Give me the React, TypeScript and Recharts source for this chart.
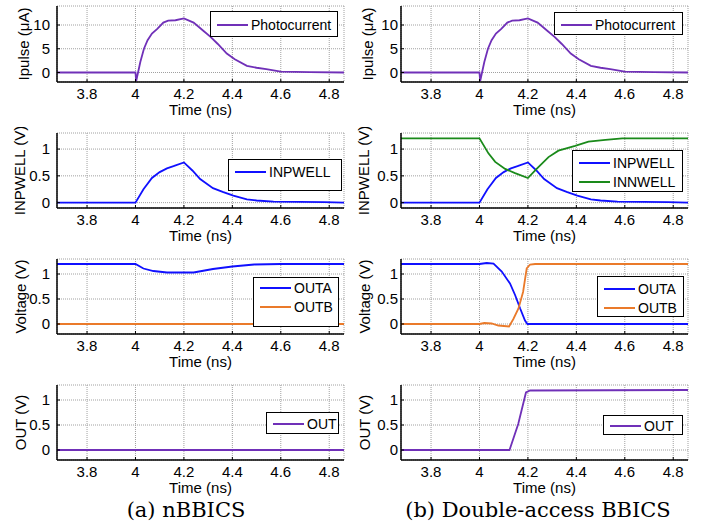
import React from 'react';
import { LineChart, Line, XAxis, YAxis, CartesianGrid, Legend } from 'recharts';

const timeRange = [3.676, 4.861];
const timeTicks = [3.8, 4, 4.2, 4.4, 4.6, 4.8];
const currentTicks = [0, 5, 10];
const voltTicks = [0, 0.5, 1];

// photocurrent pulse (uA), same for both circuits
const pulseT = [3.676, 4.0, 4.003, 4.02, 4.035, 4.05, 4.068, 4.09, 4.115, 4.135, 4.165, 4.2, 4.24, 4.28, 4.31, 4.34, 4.377, 4.41, 4.46, 4.5, 4.54, 4.6, 4.72, 4.861];
const pulseV = [0, 0, -1.8, 2.2, 5.0, 6.8, 8.2, 9.2, 10.5, 10.9, 11.0, 11.4, 10.5, 8.8, 7.5, 6.0, 4.0, 2.8, 1.4, 1.0, 0.7, 0.2, 0.1, 0];

// well voltages (V)
const inpwellT = [3.676, 4.0, 4.033, 4.068, 4.1, 4.13, 4.157, 4.2, 4.235, 4.267, 4.32, 4.36, 4.404, 4.46, 4.5, 4.57, 4.78, 4.861];
const inpwellV = [0, 0, 0.25, 0.46, 0.57, 0.64, 0.68, 0.75, 0.6, 0.44, 0.27, 0.2, 0.13, 0.06, 0.04, 0.02, 0.01, 0];
const innwellT = [3.676, 4.0, 4.037, 4.065, 4.106, 4.147, 4.2, 4.236, 4.285, 4.326, 4.395, 4.45, 4.52, 4.59, 4.861];
const innwellV = [1.2, 1.2, 0.92, 0.76, 0.63, 0.55, 0.46, 0.63, 0.85, 0.97, 1.06, 1.14, 1.17, 1.2, 1.2];

// nBBICS outputs
const outaLeftT = [3.676, 4.0, 4.033, 4.074, 4.13, 4.24, 4.32, 4.4, 4.49, 4.6, 4.861];
const outaLeftV = [1.2, 1.2, 1.11, 1.06, 1.03, 1.03, 1.1, 1.15, 1.19, 1.2, 1.2];
const outbLeftT = [3.676, 4.861];
const outbLeftV = [0, 0];
const outLeftT = [3.676, 4.861];
const outLeftV = [0, 0];

// double-access BBICS outputs
const outaRightT = [3.676, 4.0, 4.03, 4.058, 4.092, 4.126, 4.147, 4.168, 4.188, 4.198, 4.861];
const outaRightV = [1.2, 1.2, 1.22, 1.21, 1.05, 0.81, 0.58, 0.31, 0.07, 0, 0];
const outbRightT = [3.676, 4.0, 4.02, 4.05, 4.078, 4.122, 4.14, 4.161, 4.18, 4.195, 4.209, 4.23, 4.861];
const outbRightV = [0, 0, 0.02, 0.01, -0.03, -0.05, 0.1, 0.31, 0.64, 1.11, 1.19, 1.2, 1.2];
const outRightT = [3.676, 4.124, 4.16, 4.192, 4.209, 4.861];
const outRightV = [0, 0, 0.52, 1.15, 1.19, 1.2];

const PURPLE = '#7030b8';
const BLUE = '#1010ff';
const GREEN = '#1a8a1a';
const ORANGE = '#ea7a2a';

const pts = (t: number[], v: number[]) => t.map((x, i) => ({ t: x, v: v[i] }));

interface Series {
  name: string;
  color: string;
  data: { t: number; v: number }[];
}

interface Box {
  x: number;
  y: number;
  w: number;
  h: number;
  pad: number;
}

interface PanelProps {
  col: 0 | 1;
  plotTop: number;
  plotH: number;
  yDomain: number[];
  yTicks: number[];
  yLabel: string;
  labelOffset: number;
  series: Series[];
  box: Box;
}

// MATLAB-style legend: boxed, line sample then name, in series order
function LegendBox({ series, box }: { series: Series[]; box: Box }) {
  return (
    <div
      style={{
        boxSizing: 'border-box',
        width: box.w,
        height: box.h,
        border: '1px solid #000',
        background: '#fff',
        paddingTop: box.pad,
        paddingLeft: 6,
        fontSize: 14,
        color: '#000',
        whiteSpace: 'nowrap'
      }}
    >
      {series.map((s) => (
        <div key={s.name} style={{ display: 'flex', alignItems: 'center', height: 19 }}>
          <span style={{ display: 'inline-block', width: 31, height: 2, background: s.color, marginRight: 3 }} />
          <span>{s.name}</span>
        </div>
      ))}
    </div>
  );
}

const SANS = '"Liberation Sans", Arial, sans-serif';

function Panel({ col, plotTop, plotH, yDomain, yTicks, yLabel, labelOffset, series, box }: PanelProps) {
  const left = col === 0 ? 0 : 355;
  const width = col === 0 ? 360 : 354;
  const yWidth = col === 0 ? 57 : 46;
  const marginRight = col === 0 ? 16 : 21;
  const top = plotTop - 6;
  const height = 6 + plotH + 40;
  const axisFont = { fill: '#000', fontSize: 15, fontFamily: SANS };

  return (
    <div style={{ position: 'absolute', left, top }}>
      <LineChart width={width} height={height} margin={{ top: 6, right: marginRight, bottom: 0, left: 0 }}>
        <CartesianGrid stroke="#a0a0a0" strokeDasharray="1 1" />
        <XAxis
          dataKey="t"
          type="number"
          domain={timeRange}
          ticks={timeTicks}
          allowDataOverflow
          height={40}
          stroke="#000"
          strokeWidth={1.5}
          fontSize={15}
          tickSize={-3}
          tickMargin={9}
          tickLine={{ strokeWidth: 1 }}
          tick={axisFont}
          label={{ value: 'Time (ns)', position: 'insideBottom', offset: 7, ...axisFont, style: { fontSize: 15 } }}
        />
        <XAxis
          xAxisId="top"
          orientation="top"
          dataKey="t"
          type="number"
          domain={timeRange}
          ticks={timeTicks}
          allowDataOverflow
          height={0}
          mirror
          tick={false}
          tickSize={3}
          stroke="#000"
        />
        <YAxis
          type="number"
          domain={yDomain}
          ticks={yTicks}
          allowDataOverflow
          width={yWidth}
          stroke="#000"
          strokeWidth={1.5}
          fontSize={15}
          tickSize={-3}
          tickMargin={col === 0 ? 10 : 6}
          tickLine={{ strokeWidth: 1 }}
          tick={axisFont}
          label={{
            value: yLabel,
            angle: -90,
            position: 'insideLeft',
            offset: labelOffset,
            ...axisFont,
            style: { textAnchor: 'middle', fontSize: 15 }
          }}
        />
        <YAxis
          yAxisId="right"
          orientation="right"
          type="number"
          domain={yDomain}
          ticks={yTicks}
          allowDataOverflow
          width={0}
          mirror
          tick={false}
          tickSize={3}
          stroke="#000"
        />
        <Legend
          layout="vertical"
          align="center"
          verticalAlign="middle"
          wrapperStyle={{ left: box.x - left, top: box.y - top, width: box.w, height: box.h }}
          content={() => <LegendBox series={series} box={box} />}
        />
        {series.map((s) => (
          <Line
            key={s.name}
            data={s.data}
            dataKey="v"
            name={s.name}
            stroke={s.color}
            strokeWidth={1.8}
            dot={false}
            isAnimationActive={false}
          />
        ))}
      </LineChart>
    </div>
  );
}

const rowTops = [6, 133, 259, 385];
const plotHeights = [76, 75, 75, 75];

export default function App() {
  const pulse = pts(pulseT, pulseV);
  const inpwell = pts(inpwellT, inpwellV);

  return (
    <div
      style={{
        position: 'absolute',
        left: 0,
        top: 0,
        width: 709,
        height: 529,
        background: '#fff',
        fontFamily: SANS,
        overflow: 'hidden'
      }}
    >
      {/* (a) nBBICS */}
      <Panel col={0} plotTop={rowTops[0]} plotH={plotHeights[0]} yDomain={[-2, 14]} yTicks={currentTicks}
        yLabel="Ipulse (μA)" labelOffset={24}
        series={[{ name: 'Photocurrent', color: PURPLE, data: pulse }]}
        box={{ x: 210, y: 11, w: 128, h: 26, pad: 3 }} />
      <Panel col={0} plotTop={rowTops[1]} plotH={plotHeights[1]} yDomain={[-0.1, 1.3]} yTicks={voltTicks}
        yLabel="INPWELL (V)" labelOffset={20}
        series={[{ name: 'INPWELL', color: BLUE, data: inpwell }]}
        box={{ x: 228, y: 159, w: 114, h: 32, pad: 2 }} />
      <Panel col={0} plotTop={rowTops[2]} plotH={plotHeights[2]} yDomain={[-0.2, 1.3]} yTicks={voltTicks}
        yLabel="Voltage (V)" labelOffset={21}
        series={[
          { name: 'OUTA', color: BLUE, data: pts(outaLeftT, outaLeftV) },
          { name: 'OUTB', color: ORANGE, data: pts(outbLeftT, outbLeftV) }
        ]}
        box={{ x: 253, y: 277, w: 86, h: 50, pad: 0 }} />
      <Panel col={0} plotTop={rowTops[3]} plotH={plotHeights[3]} yDomain={[-0.2, 1.3]} yTicks={voltTicks}
        yLabel="OUT (V)" labelOffset={21}
        series={[{ name: 'OUT', color: PURPLE, data: pts(outLeftT, outLeftV) }]}
        box={{ x: 266, y: 412, w: 73, h: 22, pad: 1 }} />

      {/* (b) Double-access BBICS */}
      <Panel col={1} plotTop={rowTops[0]} plotH={plotHeights[0]} yDomain={[-2, 14]} yTicks={currentTicks}
        yLabel="Ipulse (μA)" labelOffset={13}
        series={[{ name: 'Photocurrent', color: PURPLE, data: pulse }]}
        box={{ x: 554, y: 12, w: 129, h: 23, pad: 2 }} />
      <Panel col={1} plotTop={rowTops[1]} plotH={plotHeights[1]} yDomain={[-0.1, 1.3]} yTicks={voltTicks}
        yLabel="INPWELL (V)" labelOffset={9}
        series={[
          { name: 'INPWELL', color: BLUE, data: inpwell },
          { name: 'INNWELL', color: GREEN, data: pts(innwellT, innwellV) }
        ]}
        box={{ x: 572, y: 150, w: 111, h: 42, pad: 2 }} />
      <Panel col={1} plotTop={rowTops[2]} plotH={plotHeights[2]} yDomain={[-0.2, 1.3]} yTicks={voltTicks}
        yLabel="Voltage (V)" labelOffset={10}
        series={[
          { name: 'OUTA', color: BLUE, data: pts(outaRightT, outaRightV) },
          { name: 'OUTB', color: ORANGE, data: pts(outbRightT, outbRightV) }
        ]}
        box={{ x: 597, y: 276, w: 87, h: 41, pad: 2 }} />
      <Panel col={1} plotTop={rowTops[3]} plotH={plotHeights[3]} yDomain={[-0.2, 1.3]} yTicks={voltTicks}
        yLabel="OUT (V)" labelOffset={10}
        series={[{ name: 'OUT', color: PURPLE, data: pts(outRightT, outRightV) }]}
        box={{ x: 603, y: 415, w: 80, h: 20, pad: 0 }} />

      <div style={{ position: 'absolute', left: 0, width: 372, top: 500, textAlign: 'center', fontFamily: '"DejaVu Serif", serif', fontSize: 21, lineHeight: '21px', color: '#000' }}>
        (a) nBBICS
      </div>
      <div style={{ position: 'absolute', left: 367, width: 342, top: 500, textAlign: 'center', fontFamily: '"DejaVu Serif", serif', fontSize: 21, lineHeight: '21px', color: '#000' }}>
        (b) Double-access BBICS
      </div>
    </div>
  );
}
